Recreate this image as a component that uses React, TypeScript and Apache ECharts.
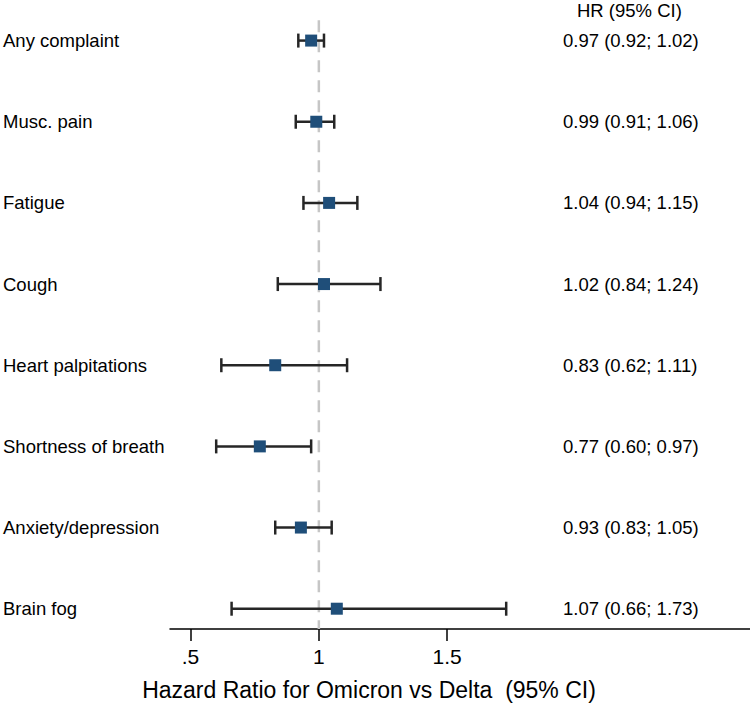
import React, { useEffect, useRef } from "react";
import * as echarts from "echarts";

const outcomes = [
  "Any complaint",
  "Musc. pain",
  "Fatigue",
  "Cough",
  "Heart palpitations",
  "Shortness of breath",
  "Anxiety/depression",
  "Brain fog",
];
const hr = [0.97, 0.99, 1.04, 1.02, 0.83, 0.77, 0.93, 1.07];
const ciLow = [0.92, 0.91, 0.94, 0.84, 0.62, 0.6, 0.83, 0.66];
const ciHigh = [1.02, 1.06, 1.15, 1.24, 1.11, 0.97, 1.05, 1.73];
const xTicks = [0.5, 1, 1.5];
const xTickLabels = [".5", "1", "1.5"];
const refValue = 1;
const xTitle = "Hazard Ratio for Omicron vs Delta  (95% CI)";
const colHeader = "HR (95% CI)";

const rows = outcomes.map((_, i) => i + 1);
const hrLabels = outcomes.map(
  (_, i) => `${hr[i].toFixed(2)} (${ciLow[i].toFixed(2)}; ${ciHigh[i].toFixed(2)})`
);

const FONT = "'Liberation Sans', Arial, Helvetica, sans-serif";

export default function App() {
  const ref = useRef<HTMLDivElement>(null);
  useEffect(() => {
    if (!ref.current) return;
    const chart = echarts.init(ref.current, undefined, { renderer: "svg" });
    const yBase = {
      type: "value",
      inverse: true,
      min: 0.5,
      max: 8.25,
      axisLine: { show: false },
      axisTick: { show: false },
      splitLine: { show: false },
    };
    const option: any = {
      animation: false,
      backgroundColor: "#ffffff",
      grid: { left: 170, right: 0, top: 0, bottom: 79 },
      xAxis: {
        type: "value",
        min: 0.42,
        max: 2.68,
        axisLine: { show: true, lineStyle: { color: "#000", width: 1.5 } },
        axisTick: {
          show: true,
          length: 12,
          customValues: xTicks,
          lineStyle: { color: "#000", width: 1.5 },
        },
        axisLabel: {
          customValues: xTicks,
          formatter: (v: number) => {
            const k = xTicks.findIndex((t) => Math.abs(t - v) < 1e-9);
            return k >= 0 ? xTickLabels[k] : "";
          },
          fontSize: 21,
          color: "#000",
          margin: 17,
          fontFamily: FONT,
        },
        splitLine: { show: false },
      },
      yAxis: [
        {
          ...yBase,
          position: "left",
          axisLabel: {
            customValues: rows,
            formatter: (v: number) => outcomes[Math.round(v) - 1] ?? "",
            align: "left",
            margin: 167,
            fontSize: 18.5,
            color: "#000",
            fontFamily: FONT,
          },
        },
        {
          ...yBase,
          position: "right",
          axisLabel: {
            customValues: rows,
            formatter: (v: number) => hrLabels[Math.round(v) - 1] ?? "",
            align: "left",
            margin: -187,
            fontSize: 18.5,
            color: "#000",
            fontFamily: FONT,
          },
        },
      ],
      graphic: [
        {
          type: "text",
          x: 577,
          y: 10,
          style: {
            text: colHeader,
            fontSize: 18.5,
            fontFamily: FONT,
            fill: "#000",
            textVerticalAlign: "middle",
          },
        },
        {
          type: "text",
          x: 369,
          y: 690,
          style: {
            text: xTitle,
            fontSize: 23,
            fontFamily: FONT,
            fill: "#000",
            textAlign: "center",
            textVerticalAlign: "middle",
          },
        },
      ],
      series: [
        {
          type: "custom",
          name: "ref",
          z: 1,
          silent: true,
          clip: false,
          data: [[refValue, 0.75, 8.25]],
          encode: { x: 0, y: [1, 2] },
          renderItem: (params: any, api: any) => {
            const a = api.coord([api.value(0), api.value(1)]);
            const b = api.coord([api.value(0), api.value(2)]);
            return {
              type: "line",
              shape: { x1: a[0], y1: a[1], x2: b[0], y2: b[1] },
              style: { stroke: "#c6c6c6", lineWidth: 2.5, lineDash: [12, 8] },
            };
          },
        },
        {
          type: "custom",
          name: "ci",
          z: 2,
          silent: true,
          data: rows.map((r, i) => [ciLow[i], ciHigh[i], r]),
          encode: { x: [0, 1], y: 2 },
          renderItem: (params: any, api: any) => {
            const y = api.value(2);
            const p1 = api.coord([api.value(0), y]);
            const p2 = api.coord([api.value(1), y]);
            const h = 7;
            const st = { stroke: "#262626", lineWidth: 2.5 };
            return {
              type: "group",
              children: [
                { type: "line", shape: { x1: p1[0], y1: p1[1], x2: p2[0], y2: p2[1] }, style: st },
                { type: "line", shape: { x1: p1[0], y1: p1[1] - h, x2: p1[0], y2: p1[1] + h }, style: st },
                { type: "line", shape: { x1: p2[0], y1: p2[1] - h, x2: p2[0], y2: p2[1] + h }, style: st },
              ],
            };
          },
        },
        {
          type: "scatter",
          name: "HR",
          z: 3,
          symbol: "rect",
          symbolSize: 12,
          itemStyle: { color: "#1f4e79", opacity: 1 },
          data: rows.map((r, i) => [hr[i], r]),
        },
      ],
    };
    chart.setOption(option);
    return () => chart.dispose();
  }, []);
  return (
    <div
      ref={ref}
      style={{ position: "absolute", left: 0, top: 0, width: 750, height: 708 }}
    />
  );
}
